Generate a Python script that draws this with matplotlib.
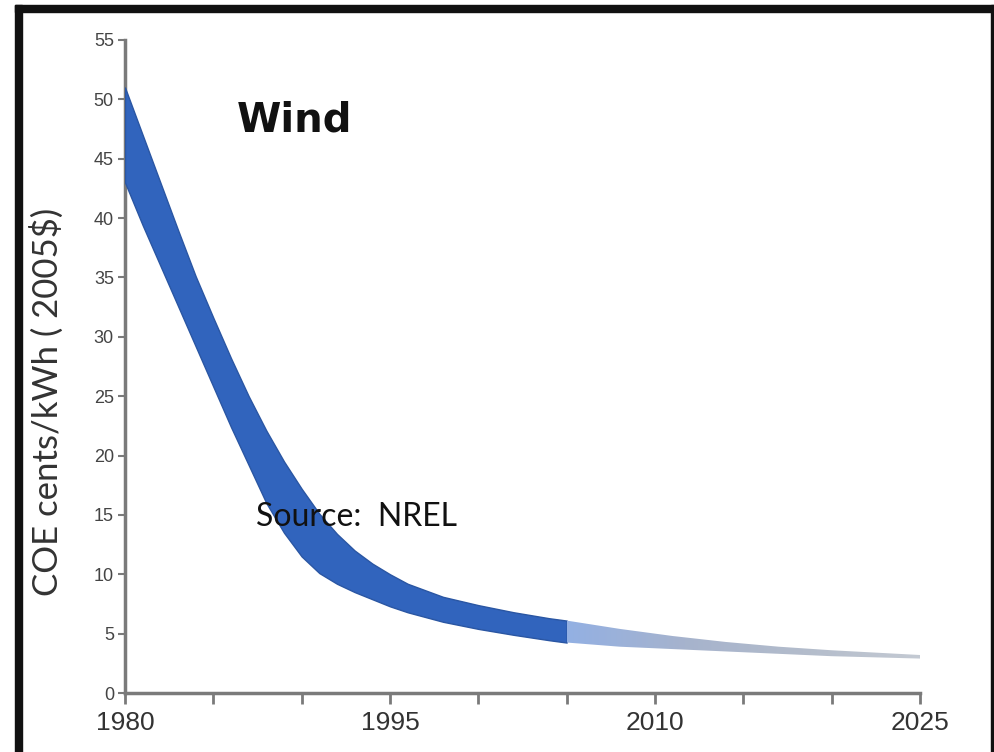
import numpy as np
import matplotlib.pyplot as plt
from matplotlib.colors import LinearSegmentedColormap
from matplotlib.patches import Rectangle

# valores (centavos/kWh, dolares 2005)
anios = [1980, 1981, 1982, 1983, 1984, 1985, 1986, 1987, 1988, 1989,
         1990, 1991, 1992, 1993, 1994, 1995, 1996, 1998, 2000, 2002,
         2004, 2005, 2008, 2011, 2014, 2017, 2020, 2025]
coe_alto = [51.0, 47.0, 43.0, 39.0, 35.1, 31.6, 28.2, 25.0, 22.1, 19.5,
            17.2, 15.1, 13.4, 12.0, 10.9, 10.0, 9.2, 8.1, 7.4, 6.8,
            6.3, 6.1, 5.4, 4.8, 4.3, 3.9, 3.6, 3.2]
coe_bajo = [43.0, 39.4, 36.0, 32.6, 29.2, 25.8, 22.4, 19.2, 16.0, 13.5,
            11.5, 10.1, 9.2, 8.5, 7.9, 7.3, 6.8, 6.0, 5.4, 4.9,
            4.45, 4.25, 3.9, 3.7, 3.5, 3.3, 3.1, 2.9]
anio_corte = 2005  # fin de la parte historica (azul oscuro)

x_ticks = [1980, 1985, 1990, 1995, 2000, 2005, 2010, 2015, 2020, 2025]
x_labels = ["1980", "", "", "1995", "", "", "2010", "", "", "2025"]
y_ticks = list(range(0, 56, 5))

anios = np.array(anios)
alto = np.array(coe_alto)
bajo = np.array(coe_bajo)

fig = plt.figure(figsize=(9.94, 7.52), dpi=100)
ax = fig.add_axes([125 / 994, 59 / 752, 795 / 994, 653 / 752])

hist = anios <= anio_corte
ax.fill_between(anios[hist], bajo[hist], alto[hist], color="#3164bd",
                edgecolor="#2a56a3", linewidth=1.0, zorder=3)

fut = anios >= anio_corte
poly = ax.fill_between(anios[fut], bajo[fut], alto[fut], color="none",
                       linewidth=0, zorder=3)
cmap = LinearSegmentedColormap.from_list(
    "claro", ["#93b0e3", "#a6b3cd", "#b3bccb", "#c4cad3"])
grad = np.linspace(0, 1, 256).reshape(1, -1)
img = ax.imshow(grad, cmap=cmap, aspect="auto", zorder=3,
                extent=[anio_corte, 2025, 0, 10], interpolation="bilinear")
img.set_clip_path(poly.get_paths()[0], transform=ax.transData)

ax.set_xlim(1980, 2025)
ax.set_ylim(0, 55)

for s in ["top", "right"]:
    ax.spines[s].set_visible(False)
for s in ["left", "bottom"]:
    ax.spines[s].set_color("#7a7a7a")
    ax.spines[s].set_linewidth(2.5)

ax.set_xticks(x_ticks)
ax.set_xticklabels(x_labels, fontsize=19, color="#333333",
                   family="Liberation Sans")
ax.set_yticks(y_ticks)
ax.set_yticklabels([str(v) for v in y_ticks], fontsize=13, color="#444444",
                   family="Liberation Sans")
ax.tick_params(axis="x", length=8, width=2, color="#7a7a7a", pad=5)
ax.tick_params(axis="y", length=5, width=1.5, color="#7a7a7a", pad=3)

ax.set_ylabel("COE cents/kWh ( 2005$)", fontsize=25, color="#333333",
              family="Lato")
ax.yaxis.set_label_coords(-0.077, 0.446)

ax.text(1986.3, 48.2, "Wind", fontsize=29, fontweight="bold",
        color="#111111", va="center", ha="left")
ax.text(1987.4, 14.8, "Source:  NREL", fontsize=23, color="#111111",
        family="Lato", va="center", ha="left", zorder=5)

# marco negro de la imagen
fig.patches.append(Rectangle((15 / 994, 0), 7 / 994, 747 / 752,
                             transform=fig.transFigure, color="#111111"))
fig.patches.append(Rectangle((15 / 994, 740 / 752), 979 / 994, 7 / 752,
                             transform=fig.transFigure, color="#111111"))
fig.patches.append(Rectangle((991 / 994, 0), 3 / 994, 747 / 752,
                             transform=fig.transFigure, color="#111111"))

fig.savefig("out.png", dpi=100)
